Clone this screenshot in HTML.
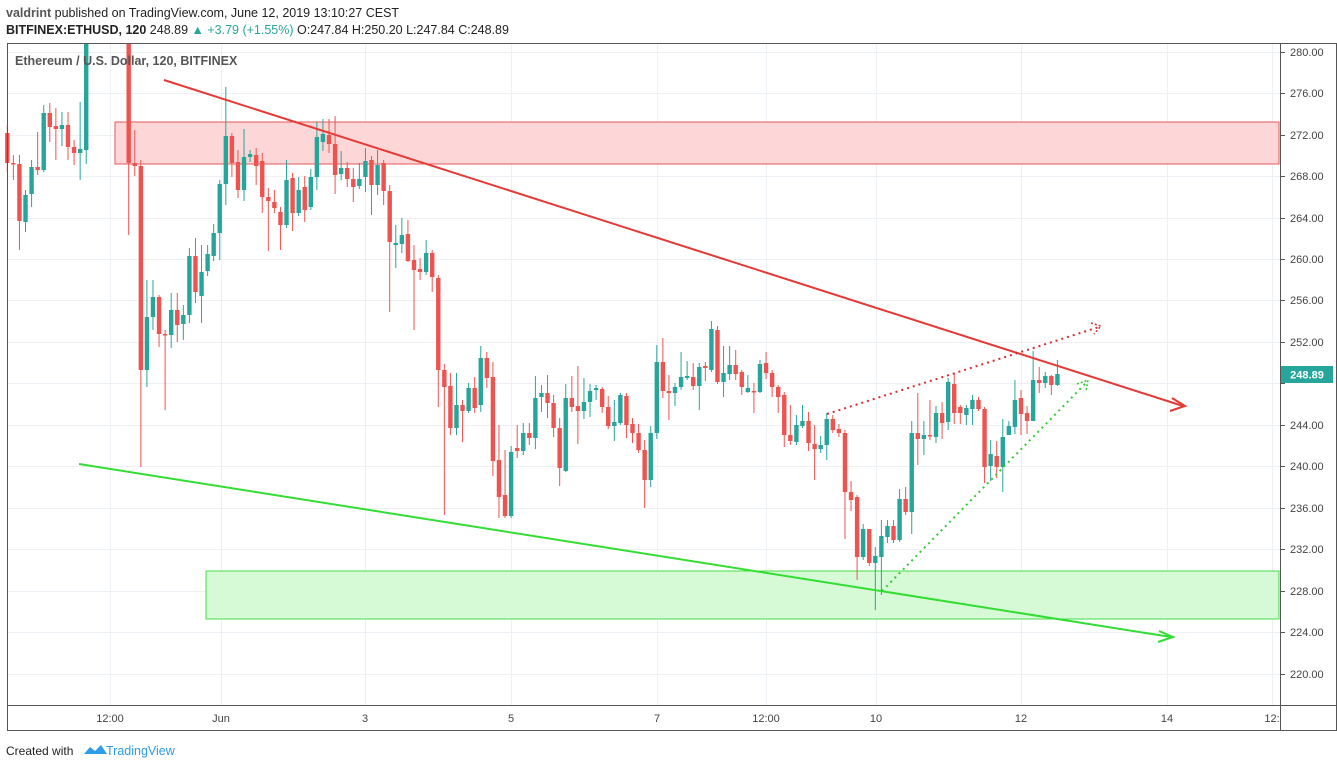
<!DOCTYPE html>
<html><head><meta charset="utf-8"><style>
body{margin:0;width:1337px;height:768px;background:#fff;overflow:hidden;font-family:"Liberation Sans",sans-serif}
svg{position:absolute;left:0;top:0}
</style></head><body>
<svg id="s" width="1337" height="768" xmlns="http://www.w3.org/2000/svg">
<rect width="1337" height="768" fill="#fff"/>
<text x="6" y="17" font-size="12.5" font-weight="bold" fill="#555">valdrint <tspan font-weight="normal" fill="#222">published on TradingView.com, June 12, 2019 13:10:27 CEST</tspan></text>
<text x="6" y="34" font-size="12.5" fill="#222"><tspan font-weight="bold">BITFINEX:ETHUSD, 120</tspan> 248.89 <tspan fill="#26a69a">▲ +3.79 (+1.55%)</tspan> O:247.84 H:250.20 L:247.84 C:248.89</text>
<g id="grid"></g>
<rect x="115" y="122" width="1164" height="42" fill="#fdd7d7" stroke="#e25a5a" stroke-width="1"/>
<rect x="206" y="571" width="1073" height="48" fill="#d6fad6" stroke="#44dd44" stroke-width="1"/>
<g id="c"></g>
<line x1="164" y1="80" x2="1183" y2="406" stroke="#e53935" stroke-width="2"/>
<polyline points="1172,398 1185,406 1170,411" fill="none" stroke="#e53935" stroke-width="2"/>
<line x1="79" y1="464" x2="1171" y2="637" stroke="#33dd33" stroke-width="2"/>
<polyline points="1159,631 1173,637 1158,642" fill="none" stroke="#33dd33" stroke-width="2"/>
<line x1="827" y1="414" x2="1099" y2="327" stroke="#d32f2f" stroke-width="2" stroke-dasharray="2,4"/>
<polyline points="1091,323 1101,326 1094,334" fill="none" stroke="#d32f2f" stroke-width="1.5" stroke-dasharray="2,2"/>
<line x1="882" y1="591" x2="1087" y2="382" stroke="#33cc33" stroke-width="2" stroke-dasharray="2,4"/>
<polyline points="1077,384 1088,380 1086,391" fill="none" stroke="#33cc33" stroke-width="1.5" stroke-dasharray="2,2"/>
<rect x="0" y="0" width="1337" height="42" fill="#fff"/>
<text x="6" y="17" font-size="12.5" font-weight="bold" fill="#555">valdrint <tspan font-weight="normal" fill="#222">published on TradingView.com, June 12, 2019 13:10:27 CEST</tspan></text>
<text x="6" y="34" font-size="12.5" fill="#222"><tspan font-weight="bold">BITFINEX:ETHUSD, 120</tspan> 248.89 <tspan fill="#26a69a">▲ +3.79 (+1.55%)</tspan> O:247.84 H:250.20 L:247.84 C:248.89</text>
<text x="15" y="65" font-size="12.5" fill="#555" font-weight="bold">Ethereum / U.S. Dollar, 120, BITFINEX</text>
<rect x="7.5" y="43.5" width="1329" height="687" fill="none" stroke="#555" stroke-width="1"/>
<line x1="1280.5" y1="43" x2="1280.5" y2="730" stroke="#555"/>
<line x1="7" y1="705.5" x2="1337" y2="705.5" stroke="#555"/>
<g id="ax" font-size="11" fill="#444"></g>
<rect x="1281" y="366" width="52" height="17" fill="#26a69a"/>
<text x="1307" y="378.5" font-size="11" fill="#fff" text-anchor="middle" font-weight="bold">248.89</text>
<text x="6" y="755" font-size="12" fill="#222">Created with</text>
<path d="M84 754 l6 -7 l5 4 l6 -6 l6 9 z" fill="#2e9ce8"/>
<text x="106" y="755" font-size="12.5" fill="#2e9ce8">TradingView</text>
</svg>
<script>
var NS="http://www.w3.org/2000/svg";
function el(p,t,a,tx){var e=document.createElementNS(NS,t);for(var k in a)e.setAttribute(k,a[k]);if(tx!==undefined)e.textContent=tx;document.getElementById(p).appendChild(e);}
var ys=[[280,52],[276,93],[272,135],[268,176],[264,218],[260,259],[256,300],[252,342],[248,383],[244,425],[240,466],[236,508],[232,549],[228,591],[224,632],[220,674]];
ys.forEach(function(v){el("grid","line",{x1:8,x2:1280,y1:v[1]+.5,y2:v[1]+.5,stroke:"#edf0f4"});
 if(v[0]!=248)el("ax","text",{x:1290,y:v[1]+4},v[0].toFixed(2));
 el("ax","line",{x1:1281,x2:1285,y1:v[1]+.5,y2:v[1]+.5,stroke:"#555"});});
var xs=[[110,"12:00"],[221,"Jun"],[365,"3"],[511,"5"],[657,"7"],[766,"12:00"],[876,"10"],[1021,"12"],[1167,"14"],[1272,"12:"]];
xs.forEach(function(v){el("grid","line",{x1:v[0]+.5,x2:v[0]+.5,y1:44,y2:705,stroke:"#edf0f4"});
 el("ax","text",{x:v[0],y:722,"text-anchor":"middle"},v[1]);});
var D=[
[0,'r',133,163,125,172],[1,'r',163,164,155,180],[2,'r',164,221,155,250],[3,'g',195,222,190,232],[4,'g',167,194,160,207],[5,'r',167,170,132,175],[6,'g',113,170,105,172],[7,'r',113,127,103,142],[8,'r',126,129,108,160],[9,'g',125,129,112,146],[10,'r',125,147,112,160],[11,'r',147,153,140,165],[12,'g',149,153,102,180],[13,'g',30,150,30,164],
[20,'r',30,163,30,235],[21,'r',163,166,130,176],[22,'r',166,370,160,467],[23,'g',317,370,280,387],[24,'g',297,317,280,330],[25,'r',297,334,295,347],[26,'r',334,335,330,410],[27,'g',310,335,293,348],[28,'r',310,325,293,342],[29,'g',315,324,305,340],[30,'g',256,315,248,323],[31,'r',256,292,238,303],[32,'g',272,296,245,323],[33,'g',254,271,245,276],[34,'g',233,256,224,261],[35,'g',184,233,180,260],[36,'g',136,184,87,205],[37,'r',136,163,133,177],[38,'r',162,190,150,198],[39,'g',157,190,129,201],[40,'g',154,157,150,162],[41,'r',155,166,148,185],[42,'r',161,197,153,213],[43,'r',197,201,188,251],[44,'r',202,208,190,213],[45,'r',212,225,207,250],[46,'g',180,225,160,228],[47,'r',178,213,173,231],[48,'g',190,213,177,216],[49,'r',187,210,176,222],[50,'g',177,207,169,210],[51,'g',137,177,122,190],[52,'g',134,142,119,151],[53,'r',135,144,119,153],[54,'r',144,175,116,194],[55,'g',168,174,151,180],[56,'r',168,179,162,187],[57,'r',179,187,168,202],[58,'g',179,186,163,189],[59,'g',161,177,148,192],[60,'r',160,185,156,215],[61,'g',165,185,150,195],[62,'r',163,191,160,205],[63,'r',191,242,185,312],[64,'g',243,245,225,268],[65,'g',235,244,218,253],[66,'r',234,261,220,262],[67,'r',260,270,245,330],[68,'r',269,272,258,280],[69,'g',253,272,240,275],[70,'r',253,277,250,292],[71,'r',278,370,275,407],[72,'r',370,387,364,515],[73,'r',386,428,373,435],[74,'g',405,428,373,435],[75,'r',405,411,400,442],[76,'g',388,411,383,413],[77,'r',388,408,377,413],[78,'g',358,405,346,412],[79,'r',358,378,352,388],[80,'r',377,461,362,476],[81,'r',460,497,425,518],[82,'r',495,516,450,518],[83,'g',452,516,446,518],[84,'r',448,451,425,458],[85,'g',433,451,423,455],[86,'r',433,438,423,445],[87,'g',398,438,376,449],[88,'g',393,397,385,412],[89,'r',393,403,375,418],[90,'r',403,428,395,437],[91,'r',428,468,418,486],[92,'g',398,471,384,472],[93,'r',398,407,376,412],[94,'r',406,411,366,444],[95,'g',402,411,378,419],[96,'g',391,402,384,417],[97,'g',388,390,385,400],[98,'r',389,407,387,413],[99,'r',407,426,396,429],[100,'g',422,426,400,441],[101,'g',395,423,393,425],[102,'r',396,425,393,438],[103,'r',424,433,418,443],[104,'r',433,450,424,453],[105,'r',450,480,440,508],[106,'g',433,480,426,487],[107,'g',362,433,345,439],[108,'r',362,391,338,398],[109,'r',391,393,375,420],[110,'g',387,393,383,406],[111,'g',377,387,352,390],[112,'g',376,378,361,380],[113,'r',377,386,363,390],[114,'g',367,386,363,410],[115,'r',366,368,362,381],[116,'g',329,370,321,372],[117,'r',330,382,326,384],[118,'g',373,382,346,397],[119,'g',365,374,346,380],[120,'r',365,374,350,380],[121,'r',372,387,370,395],[122,'g',388,392,375,393],[123,'r',391,392,383,413],[124,'g',364,392,360,393],[125,'r',363,373,352,379],[126,'r',373,387,370,397],[127,'r',387,397,385,413],[128,'r',395,435,392,447],[129,'r',435,441,405,445],[130,'g',425,442,415,445],[131,'g',421,426,405,428],[132,'r',421,443,412,451],[133,'r',444,449,425,480],[134,'g',445,449,436,453],[135,'g',419,445,413,460],[136,'r',419,430,415,433],[137,'r',429,433,424,437],[138,'r',433,492,430,539],[139,'r',492,500,481,511],[140,'r',497,557,495,580],[141,'g',529,557,524,560],[142,'r',529,563,529,566],[143,'g',556,563,547,610],[144,'g',536,557,520,595],[145,'g',526,537,520,543],[146,'r',526,540,520,543],[147,'g',499,540,489,542],[148,'r',499,512,487,515],[149,'g',433,512,421,534],[150,'r',433,439,393,465],[151,'g',435,439,421,455],[152,'r',435,436,400,440],[153,'g',413,437,406,443],[154,'r',413,423,402,439],[155,'g',382,422,378,430],[156,'r',384,413,374,424],[157,'r',407,413,405,424],[158,'g',408,415,405,425],[159,'g',400,409,395,425],[160,'r',400,409,397,411],[161,'r',409,467,407,483],[162,'g',454,466,440,481],[163,'r',456,467,441,478],[164,'g',437,467,419,492],[165,'g',426,435,421,435],[166,'g',400,427,380,434],[167,'r',398,414,390,435],[168,'r',413,421,406,434],[169,'g',380,421,351,421],[170,'r',380,383,367,393],[171,'g',376,383,372,388],[172,'r',376,385,375,395],[173,'g',374,385,360,386]];
D.forEach(function(d){var x=7.3+d[0]*6.07;var col=d[1]=='g'?'#26a69a':'#ef5350';
 var t=Math.max(d[2],44),b=d[3],wt=Math.max(d[4],44),wb=d[5];
 el("c","line",{x1:x,x2:x,y1:wt,y2:wb,stroke:col,"stroke-width":1});
 el("c","rect",{x:x-2.2,y:t,width:4.4,height:Math.max(b-t,1.5),fill:col});});
</script>
</body></html>
